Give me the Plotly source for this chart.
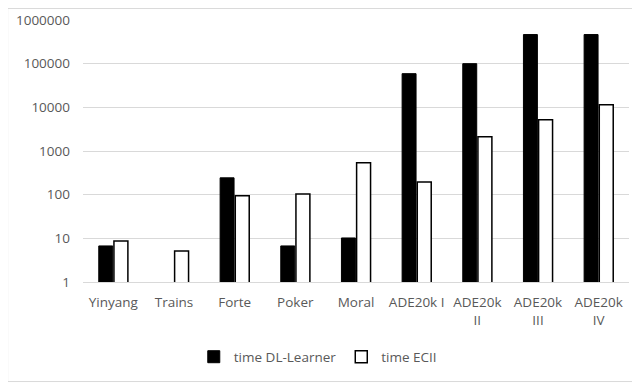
import plotly.graph_objects as go

# --- Dados ---
categorias = ['Yinyang', 'Trains', 'Forte', 'Poker', 'Moral',
              'ADE20k I', 'ADE20k<br>II', 'ADE20k<br>III', 'ADE20k<br>IV']
tempo_dl_learner = [6.7, None, 243, 6.7, 10.2, 59000, 100000, 464000, 464000]
tempo_ecii = [8.7, 5.1, 94, 104, 537, 196, 2130, 5200, 11500]
ticks_y = [1, 10, 100, 1000, 10000, 100000, 1000000]

fig = go.Figure()

fig.add_trace(go.Bar(x=categorias, y=tempo_dl_learner, name='time DL-Learner',
                     marker=dict(color='black', line=dict(color='black', width=1))))
fig.add_trace(go.Bar(x=categorias, y=tempo_ecii, name='time ECII',
                     marker=dict(color='white', line=dict(color='black', width=1.5))))

# a página tem margem de 8px no body, por isso a figura é um pouco menor
fig.update_layout(
    width=632, height=376,
    template='plotly_white',
    barmode='group', bargap=0.5, bargroupgap=0.08,
    font=dict(family='Open Sans', size=13.5, color='#595959'),
    margin=dict(l=75, r=11, t=12, b=102),
    paper_bgcolor='white', plot_bgcolor='white',
    xaxis=dict(showgrid=False, showline=True, linecolor='#d9d9d9', linewidth=1,
               ticks='', tickangle=0, automargin=False, ticklabelstandoff=8),
    yaxis=dict(type='log', range=[0, 6], tickvals=ticks_y,
               ticktext=[str(v) for v in ticks_y],
               gridcolor='#d9d9d9', gridwidth=1, zeroline=False, showline=False,
               ticks='', automargin=False, ticklabelstandoff=12),
    legend=dict(orientation='h', x=0.43, xanchor='center', y=-0.286, yanchor='middle',
                itemwidth=30, traceorder='normal'),
    shapes=[dict(type='rect', xref='paper', yref='paper', x0=-0.138, y0=-0.38,
                 x1=1.0167, y1=1.044, line=dict(color='#d9d9d9', width=1))],
)

fig.write_html('out.html')
